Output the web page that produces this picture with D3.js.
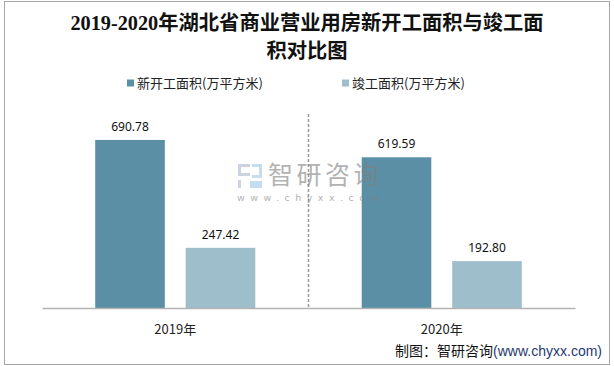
<!DOCTYPE html>
<html>
<head>
<meta charset="utf-8">
<script src="https://cdn.jsdelivr.net/npm/d3@7"></script>
<style>
  html, body { margin: 0; padding: 0; background: #fff; }
  svg { display: block; }
</style>
</head>
<body>
<svg id="chart" width="614" height="366"></svg>
<script>
const categories = ["2019年", "2020年"];
const seriesNames = ["新开工面积(万平方米)", "竣工面积(万平方米)"];
const newStarts = [690.78, 619.59];
const completed = [247.42, 192.80];
const valueLabels = [["690.78", "619.59"], ["247.42", "192.80"]];
const titleLines = ["2019-2020年湖北省商业营业用房新开工面积与竣工面", "积对比图"];
const sourceText = "制图：智研咨询";
const sourceUrl = "(www.chyxx.com)";

const colors = ["#5B8FA5", "#9FBECB"];
const seriesValues = [newStarts, completed];

const svg = d3.select("#chart");
const cjk = "'Noto Sans CJK SC', 'Noto Sans', sans-serif";

// outer border
svg.append("rect").attr("x", 4.5).attr("y", 1.5).attr("width", 605).attr("height", 363)
  .attr("fill", "#fff").attr("stroke", "#a6a6a6").attr("stroke-width", 1);

// title
svg.append("g").selectAll("text").data(titleLines).join("text")
  .attr("x", 307).attr("y", (d, i) => 30 + i * 28)
  .attr("text-anchor", "middle")
  .attr("font-family", "'Liberation Serif', 'Noto Sans CJK SC', serif")
  .attr("font-weight", "bold").attr("font-size", 20.3).attr("fill", "#111")
  .text(d => d);

// legend
const legendX = [127, 342];
const lg = svg.append("g").selectAll("g").data(seriesNames).join("g")
  .attr("transform", (d, i) => `translate(${legendX[i]},83)`);
lg.append("rect").attr("x", 0).attr("y", -3.5).attr("width", 7).attr("height", 7)
  .attr("fill", (d, i) => colors[i]);
lg.append("text").attr("x", 10).attr("y", 4.5)
  .attr("font-family", cjk).attr("font-size", 13).attr("fill", "#222")
  .text(d => d);

// scales
const y = d3.scaleLinear().domain([0, 800]).range([308, 113.4]);
const x0 = d3.scaleBand().domain(categories).range([42, 575]).paddingInner(0).paddingOuter(0);
const x1 = d3.scaleBand().domain(seriesNames).range([0, x0.bandwidth()])
  .paddingInner(0.2308).paddingOuter(0.588);

// separator (dashed)
svg.append("line")
  .attr("x1", x0(categories[1])).attr("x2", x0(categories[1]))
  .attr("y1", 114).attr("y2", y(0))
  .attr("stroke", "#999").attr("stroke-width", 1.5).attr("stroke-dasharray", "3,2");

// bars
const groups = svg.append("g").selectAll("g").data(categories).join("g")
  .attr("transform", d => `translate(${x0(d)},0)`);
seriesNames.forEach((s, si) => {
  groups.append("rect")
    .attr("x", x1(s))
    .attr("width", x1.bandwidth())
    .attr("y", (d, ci) => y(seriesValues[si][ci]))
    .attr("height", (d, ci) => y(0) - y(seriesValues[si][ci]))
    .attr("fill", colors[si]);
  groups.append("text")
    .attr("x", x1(s) + x1.bandwidth() / 2)
    .attr("y", (d, ci) => y(seriesValues[si][ci]) - 9)
    .attr("text-anchor", "middle")
    .attr("font-family", "'Noto Sans', 'Liberation Sans', sans-serif")
    .attr("font-size", 12).attr("fill", "#111")
    .text((d, ci) => valueLabels[si][ci]);
});

// watermark (drawn over the bars, semi-transparent)
const wm = svg.append("g");
const lx = 238, ly = 164;
wm.append("path").attr("d", `M${lx},${ly} h12 v3 h-9 v6 h9 v3 h-12 z M${lx},${ly+16} h3 v8 h-3 z`)
  .attr("fill", "#a8b6cc").attr("opacity", 0.6);
wm.append("path").attr("d", `M${lx+14},${ly} h10 v14 h-10 v-3 h7 v-8 h-7 z M${lx+12},${ly+17} h12 v7 h-12 z`)
  .attr("fill", "#9cc6e6").attr("opacity", 0.6);
wm.append("text").attr("x", 268).attr("y", 184)
  .attr("font-family", cjk).attr("font-size", 25).attr("fill", "#808080").attr("opacity", 0.6)
  .attr("letter-spacing", 3.5)
  .text("智研咨询");
wm.append("text").attr("x", 237).attr("y", 201)
  .attr("font-family", "'DejaVu Sans', sans-serif").attr("font-size", 9.5).attr("fill", "#808080").attr("opacity", 0.6)
  .attr("letter-spacing", 5.5)
  .text("www.chyxx.com");

// x axis
const xAxis = d3.axisBottom(x0).tickSize(0).tickPadding(0);
const ax = svg.append("g").attr("transform", `translate(0,${y(0)})`).call(xAxis);
ax.select(".domain").attr("stroke", "#b3b3b3").attr("stroke-width", 1.5);
ax.selectAll(".tick text").attr("dy", 0).attr("y", 26)
  .attr("font-family", cjk).attr("font-size", 13).attr("fill", "#222");

// source
const src = svg.append("text").attr("x", 602).attr("y", 356).attr("text-anchor", "end")
  .attr("font-family", cjk).attr("font-size", 14).attr("fill", "#111");
src.append("tspan").text(sourceText);
src.append("tspan").attr("fill", "#1f3a70").attr("font-family", "'Liberation Sans', sans-serif").text(sourceUrl);
</script>
</body>
</html>
